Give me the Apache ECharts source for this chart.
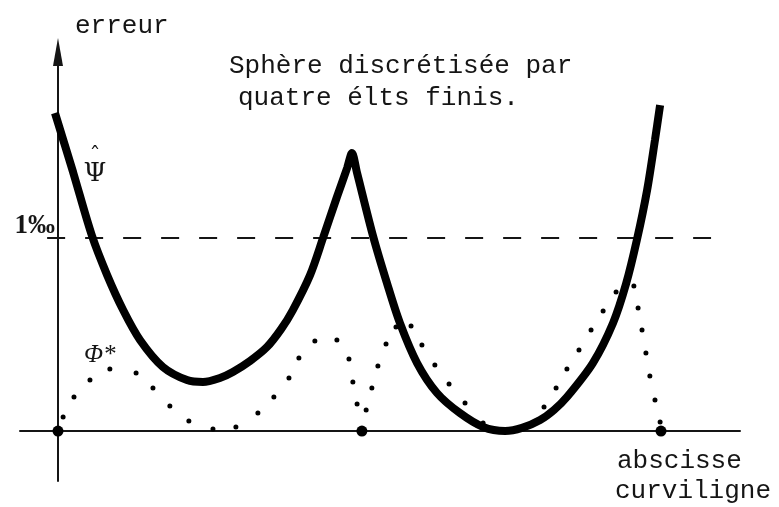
<!DOCTYPE html>
<html>
<head>
<meta charset="utf-8">
<script src="https://cdn.jsdelivr.net/npm/echarts@6/dist/echarts.min.js"></script>
<style>
  html, body { margin: 0; padding: 0; background: #fff; }
  #chart { width: 779px; height: 507px; }
</style>
</head>
<body>
<div id="chart"></div>
<script>
// Error of the reconstructed field (psi hat) along the curvilinear abscissa, in per mille
const psiX = [-0.010, 0.050, 0.113, 0.163, 0.216, 0.272, 0.348, 0.428, 0.481, 0.537,
              0.580, 0.637, 0.693, 0.740, 0.779, 0.836, 0.879, 0.925, 0.959, 0.975,
              0.992, 1.045, 1.091, 1.134, 1.191, 1.257, 1.333, 1.410, 1.483, 1.539,
              1.599, 1.645, 1.688, 1.774, 1.841, 1.884, 1.920, 1.954, 1.980, 1.997];
const psiY = [1.648, 1.342, 1.010, 0.808, 0.627, 0.472, 0.332, 0.264, 0.254, 0.275,
              0.306, 0.363, 0.435, 0.528, 0.627, 0.808, 1.000, 1.212, 1.363, 1.440,
              1.337, 1.010, 0.767, 0.560, 0.352, 0.197, 0.093, 0.021, 0.000, 0.016,
              0.057, 0.109, 0.176, 0.352, 0.560, 0.762, 0.990, 1.249, 1.508, 1.689];

// Error of phi* (dotted)
const phiX = [0.017, 0.053, 0.106, 0.172, 0.259, 0.315, 0.371, 0.434, 0.514, 0.590,
              0.663, 0.716, 0.766, 0.799, 0.852, 0.925, 0.965, 0.978, 0.992, 1.022,
              1.041, 1.061, 1.088, 1.121, 1.171, 1.207, 1.250, 1.297, 1.350, 1.410,
              1.612, 1.652, 1.688, 1.728, 1.768, 1.808, 1.851, 1.910, 1.924, 1.937,
              1.950, 1.963, 1.980, 1.997];
const phiY = [0.073, 0.176, 0.264, 0.321, 0.301, 0.223, 0.130, 0.052, 0.010, 0.021,
              0.093, 0.176, 0.275, 0.378, 0.466, 0.472, 0.373, 0.254, 0.140, 0.109,
              0.223, 0.337, 0.451, 0.539, 0.544, 0.446, 0.342, 0.244, 0.145, 0.041,
              0.124, 0.223, 0.321, 0.420, 0.523, 0.622, 0.720, 0.751, 0.637, 0.523,
              0.404, 0.285, 0.161, 0.047];

// Mesh nodes on the abscissa
const nodeX = [0, 1.008, 2];

// 1 per mille threshold
const thresholdLevel = 1;
const thresholdLabel = '1\u2030';
const thresholdSpan = [-0.036, 2.166];

const zip = (xs, ys) => xs.map((x, i) => [x, ys[i]]);
const ink = '#151515';
const mono = '"Liberation Mono", "DejaVu Sans Mono", monospace';

const chart = echarts.init(document.getElementById('chart'), null, { renderer: 'canvas' });

chart.setOption({
  animation: false,
  backgroundColor: '#fff',
  grid: { left: 20, right: 39, top: 52, bottom: 26, containLabel: false, outerBoundsMode: 'none' },
  xAxis: {
    type: 'value', min: -0.126, max: 2.262,
    axisLine: { onZero: true, lineStyle: { color: ink, width: 2 } },
    axisTick: { show: false },
    axisLabel: { show: false },
    splitLine: { show: false }
  },
  yAxis: {
    type: 'value', min: -0.259, max: 1.964,
    axisLine: {
      onZero: true, symbol: ['none', 'triangle'], symbolSize: [10, 28],
      lineStyle: { color: ink, width: 2 }
    },
    axisTick: { show: false },
    axisLabel: { show: false },
    splitLine: { show: false }
  },
  series: [
    {
      name: 'seuil',
      type: 'line',
      data: [[thresholdSpan[0], thresholdLevel], [thresholdSpan[1], thresholdLevel]],
      symbol: 'none',
      lineStyle: { color: ink, width: 2, type: [18, 20] },
      z: 1
    },
    {
      name: '\u03a6*',
      type: 'scatter',
      data: zip(phiX, phiY),
      symbol: 'circle',
      symbolSize: 5,
      itemStyle: { color: '#000', opacity: 1 },
      z: 2
    },
    {
      name: '\u03a8\u0302',
      type: 'line',
      data: zip(psiX, psiY),
      smooth: 0.3,
      symbol: 'none',
      lineStyle: { color: '#000', width: 8 },
      z: 3
    },
    {
      name: 'noeuds',
      type: 'scatter',
      data: nodeX.map(x => [x, 0]),
      symbol: 'circle',
      symbolSize: 11,
      itemStyle: { color: '#000', opacity: 1 },
      z: 4
    }
  ],
  graphic: [
    { type: 'text', x: 75, y: 26, style: { text: 'erreur', font: '26px ' + mono, fill: ink, textAlign: 'left', textVerticalAlign: 'middle' } },
    { type: 'text', x: 229, y: 66, style: { text: 'Sph\u00e8re discr\u00e9tis\u00e9e par', font: '26px ' + mono, fill: ink, textAlign: 'left', textVerticalAlign: 'middle' } },
    { type: 'text', x: 238, y: 98, style: { text: 'quatre \u00e9lts finis.', font: '26px ' + mono, fill: ink, textAlign: 'left', textVerticalAlign: 'middle' } },
    { type: 'text', x: 617, y: 461, style: { text: 'abscisse', font: '26px ' + mono, fill: ink, textAlign: 'left', textVerticalAlign: 'middle' } },
    { type: 'text', x: 615, y: 491, style: { text: 'curviligne', font: '26px ' + mono, fill: ink, textAlign: 'left', textVerticalAlign: 'middle' } },
    { type: 'text', x: 55, y: 226, style: { text: thresholdLabel, font: 'bold 27px "Liberation Serif", "DejaVu Serif", serif', fill: ink, textAlign: 'right', textVerticalAlign: 'middle' } },
    { type: 'text', x: 95, y: 174, style: { text: '\u03a8', font: '26px "DejaVu Serif", serif', fill: ink, textAlign: 'center', textVerticalAlign: 'middle' } },
    { type: 'text', x: 95, y: 157, style: { text: '\u02c6', font: '22px "DejaVu Serif", serif', fill: ink, textAlign: 'center', textVerticalAlign: 'middle' } },
    { type: 'text', x: 84, y: 355, style: { text: '\u03a6*', font: 'italic 25px "Liberation Serif", "DejaVu Serif", serif', fill: ink, textAlign: 'left', textVerticalAlign: 'middle' } }
  ]
});
</script>
</body>
</html>
